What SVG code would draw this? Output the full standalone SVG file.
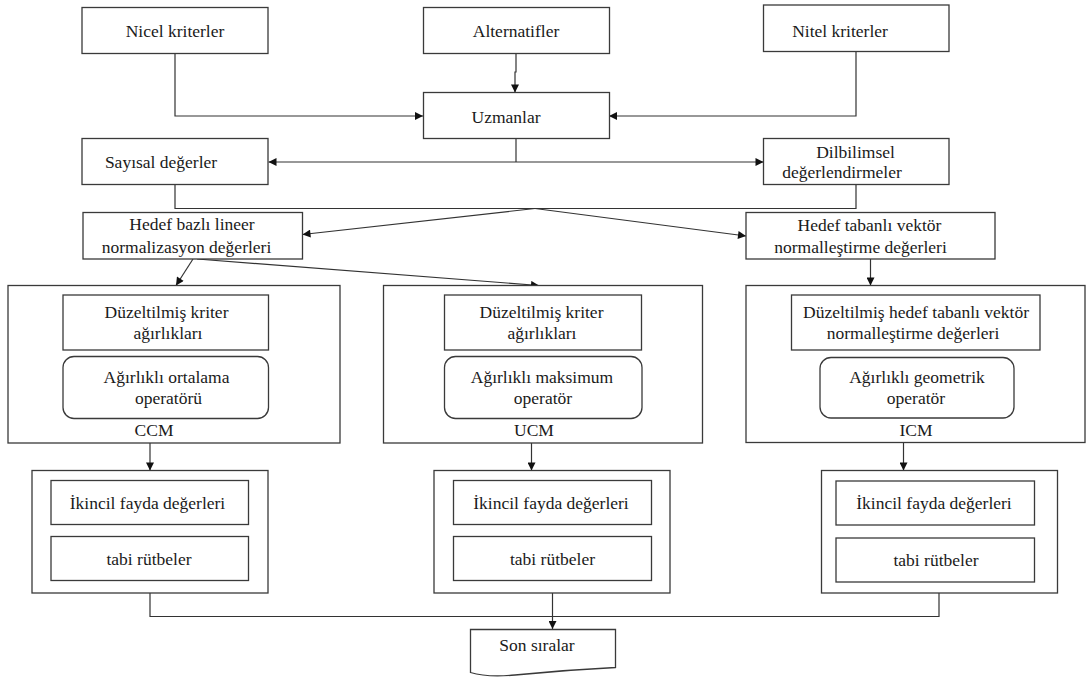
<svg xmlns="http://www.w3.org/2000/svg" width="1092" height="677" viewBox="0 0 1092 677">
<defs>
<marker id="ah" viewBox="0 0 10 10" refX="10" refY="5" markerWidth="9" markerHeight="8" markerUnits="userSpaceOnUse" orient="auto">
<path d="M0,0 L10,5 L0,10 Z" fill="#111"/>
</marker>
<style>
.b{fill:#fff;stroke:#3a3a3a;stroke-width:1.3}
text{font-family:'Liberation Serif','DejaVu Serif',serif;font-size:17.5px;fill:#1a1a1a;text-anchor:middle}
.c{fill:none;stroke:#333;stroke-width:1.2}
.a{fill:none;stroke:#333;stroke-width:1.2;marker-end:url(#ah)}
</style>
</defs>
<rect width="1092" height="677" fill="#fff"/>

<g id="connectors">
<path class="a" d="M175,53 V116 H423"/>
<path class="a" d="M516,53 V72 H515 V92.5"/>
<path class="a" d="M856,52 V116 H609"/>
<path class="c" d="M516,138 V162"/>
<path class="a" d="M516,162 H268.5"/>
<path class="a" d="M516,162 H763.5"/>
<path class="c" d="M175,184 V208.5 H856 V184"/>
<path class="a" d="M535,208.5 L302.5,234.5"/>
<path class="a" d="M535,208.5 L746,236"/>
<path class="a" d="M193,259 L176,285.5"/>
<path class="a" d="M197,259 L539,285.5"/>
<path class="a" d="M870.5,259 V285.5"/>
<path class="a" d="M268,322.5 H290.5 V387 H268.5"/>
<path class="a" d="M641.5,322.5 H664 V387 H642"/>
<path class="a" d="M1040,322.5 H1057 V387.5 H1014"/>
<path class="a" d="M150,443 V470.5"/>
<path class="a" d="M531.5,443 V470.5"/>
<path class="a" d="M903.5,442 V470.5"/>
<path class="c" d="M150,593 V616.5 H939 V593"/>
<path class="a" d="M552.5,593 V629"/>
</g>

<g id="nicel"><rect class="b" x="82" y="7.5" width="186" height="46"/><text x="175" y="37">Nicel kriterler</text></g>
<g id="alternatifler"><rect class="b" x="423.5" y="7.5" width="186" height="46"/><text x="516" y="37">Alternatifler</text></g>
<g id="nitel"><rect class="b" x="763.5" y="5" width="185.5" height="46.5"/><text x="840" y="37">Nitel kriterler</text></g>
<g id="uzmanlar"><rect class="b" x="423.5" y="92.5" width="186" height="46"/><text x="506" y="123">Uzmanlar</text></g>
<g id="sayisal"><rect class="b" x="82" y="138.5" width="186" height="46"/><text x="161" y="168">Sayısal değerler</text></g>
<g id="dilbilimsel"><rect class="b" x="763.5" y="138.5" width="185.5" height="46"/><text x="855.5" y="158">Dilbilimsel</text><text x="842" y="178">değerlendirmeler</text></g>
<g id="hedef-bazli"><rect class="b" x="83" y="212.5" width="219.5" height="46.5"/><text x="192" y="229.5">Hedef bazlı lineer</text><text x="186.5" y="253">normalizasyon değerleri</text></g>
<g id="hedef-tabanli"><rect class="b" x="746" y="212.5" width="249" height="46.5"/><text x="869.5" y="230.5">Hedef tabanlı vektör</text><text x="860.5" y="253">normalleştirme değerleri</text></g>

<g id="ccm">
<rect class="b" x="8" y="285.5" width="332" height="157.5"/>
<rect class="b" x="63" y="295" width="205.5" height="55"/>
<text x="166.5" y="317.5">Düzeltilmiş kriter</text><text x="168" y="338.5">ağırlıkları</text>
<rect class="b" x="63" y="356.5" width="205.5" height="62" rx="11"/>
<text x="166.5" y="383">Ağırlıklı ortalama</text><text x="168.5" y="404">operatörü</text>
<text x="154" y="436">CCM</text>
</g>

<g id="ucm">
<rect class="b" x="383.5" y="285.5" width="319" height="157.5"/>
<rect class="b" x="444.5" y="295" width="197" height="55"/>
<text x="541.5" y="317.5">Düzeltilmiş kriter</text><text x="542" y="338.5">ağırlıkları</text>
<rect class="b" x="444.5" y="356.5" width="197.5" height="62" rx="11"/>
<text x="542" y="383">Ağırlıklı maksimum</text><text x="543" y="404">operatör</text>
<text x="534" y="436">UCM</text>
</g>

<g id="icm">
<rect class="b" x="746" y="285.5" width="339" height="157"/>
<rect class="b" x="791.5" y="295" width="248.5" height="55"/>
<text x="916" y="317.5">Düzeltilmiş hedef tabanlı vektör</text><text x="913" y="338.5">normalleştirme değerleri</text>
<rect class="b" x="820" y="357.5" width="194" height="60.5" rx="11"/>
<text x="917" y="382.5">Ağırlıklı geometrik</text><text x="916" y="404">operatör</text>
<text x="916" y="436">ICM</text>
</g>

<g id="sec-ccm">
<rect class="b" x="32" y="470.5" width="236" height="122.5"/>
<rect class="b" x="51" y="480.5" width="197.5" height="44"/><text x="147.5" y="509">İkincil fayda değerleri</text>
<rect class="b" x="51" y="536.5" width="197.5" height="44"/><text x="149" y="565">tabi rütbeler</text>
</g>
<g id="sec-ucm">
<rect class="b" x="434" y="470.5" width="236" height="122.5"/>
<rect class="b" x="453.5" y="480.5" width="198" height="44"/><text x="551" y="509">İkincil fayda değerleri</text>
<rect class="b" x="453.5" y="536.5" width="198" height="44"/><text x="552.5" y="565">tabi rütbeler</text>
</g>
<g id="sec-icm">
<rect class="b" x="821.5" y="470.5" width="236" height="122.5"/>
<rect class="b" x="836" y="481" width="198.5" height="44"/><text x="934" y="509">İkincil fayda değerleri</text>
<rect class="b" x="836" y="538" width="198.5" height="44"/><text x="936" y="566">tabi rütbeler</text>
</g>

<g id="son">
<path class="b" d="M470.5,629.5 H615.5 V667.5 C585,669 545,672 515,675 C495,677 482,676 470.5,672.5 Z"/>
<text x="537" y="651">Son sıralar</text>
</g>
</svg>
